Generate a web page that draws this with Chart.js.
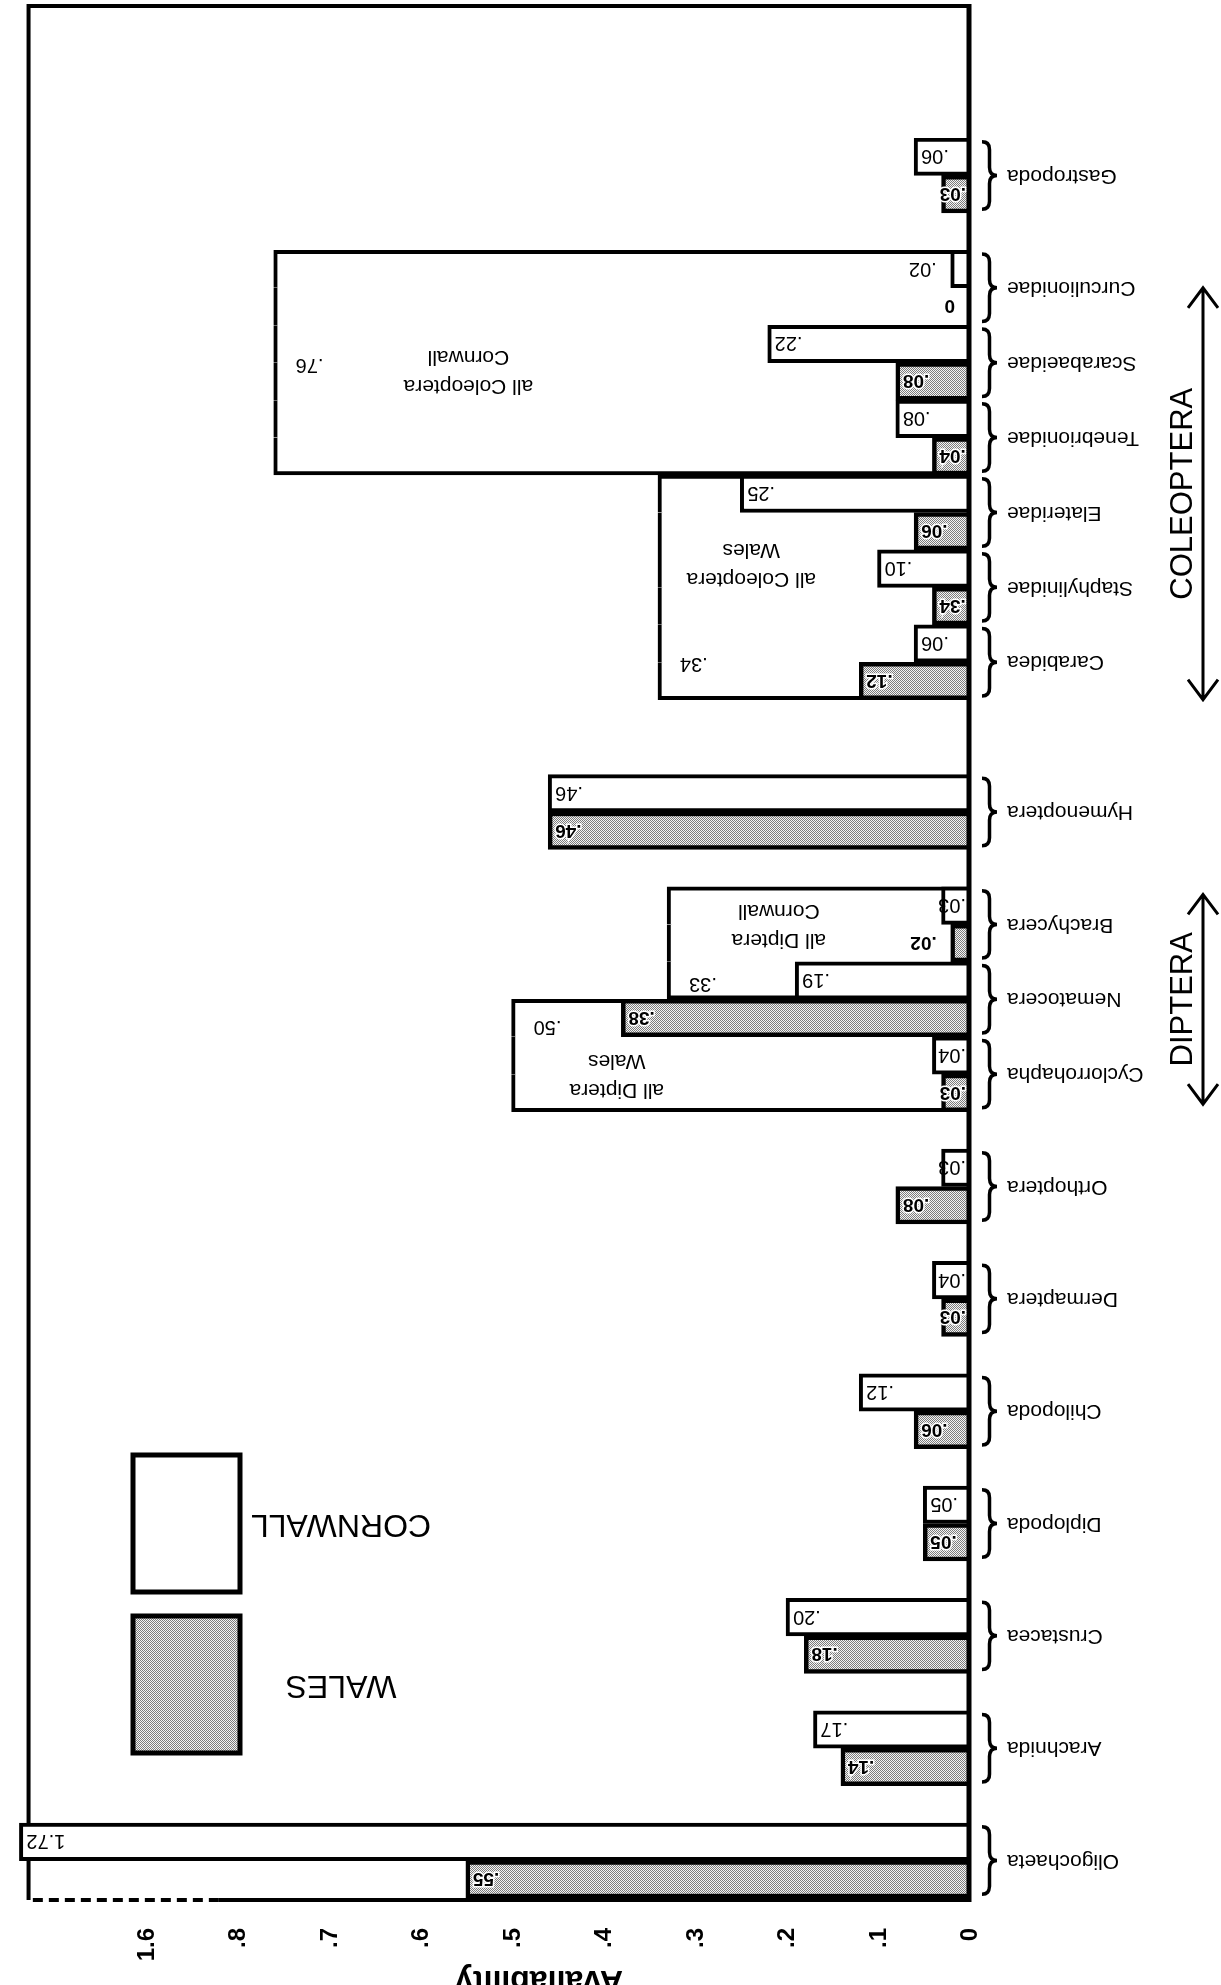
<!DOCTYPE html>
<html lang="en">
<head>
<meta charset="UTF-8">
<title>Availability – Wales and Cornwall</title>
<style>
  html,body{margin:0;padding:0;background:#fff}
  #wrap{width:1221px;height:1985px;transform:rotate(180deg)}
  canvas{display:block}
</style>
<script src="https://cdn.jsdelivr.net/npm/chart.js"></script>
</head>
<body>
<div id="wrap"><canvas id="avail" width="1221" height="1985"></canvas></div>
<script>
// values (drawn upright, page is turned over like the scan)
const categories = ['Oligochaeta','Arachnida','Crustacea','Diplopoda','Chilopoda','Dermaptera','Orthoptera',
  'Cyclorrohapha','Nematocera','Brachycera','Hymenoptera','Carabidea','Staphylinidae','Elateridae',
  'Tenebrionidae','Scarabaeidae','Curculionidae','Gastropoda'];
const wales    = [.55,.14,.18,.05,.06,.03,.08,.03,.38,.02,.46,.12,.04,.06,.04,.08,0,.03];
const cornwall = [1.72,.17,.20,.05,.12,.04,.03,.04,.19,.03,.46,.06,.10,.25,.08,.22,.02,.06];
const walesTags = {Staphylinidae: '.34'};   // printed that way on the original

const groupNames  = [['all Diptera','Wales'],['all Diptera','Cornwall'],['all Coleoptera','Wales'],['all Coleoptera','Cornwall']];
const groupValues = [.50,.33,.34,.76];
const groupSpans  = [['Cyclorrohapha W','Nematocera W'],['Nematocera C','Brachycera C'],
                     ['Carabidea W','Elateridae C'],['Tenebrionidae W','Curculionidae C']];

const tickValues = [0,.1,.2,.3,.4,.5,.6,.7,.8,1.6];
const tickLabels = ['0','.1','.2','.3','.4','.5','.6','.7','.8','1.6'];
const orders = [['DIPTERA','Cyclorrohapha','Brachycera'],['COLEOPTERA','Carabidea','Curculionidae']];

// layout only
const gapAfter   = [1,1,1,1,1,1,1,0,0,1,2,0,0,0,0,0,1,0];
const groupPlace = [[.77,.32,.76],[.63,.65,.14],[.70,.60,.16],[.72,.46,.49]];
const arrowExt   = [[.8,.8],[1,0]];
const L = {
  plotTop: 87, plotBottom: 1847, axisX: 252, padRight: 13,
  frameTop: 85, frameBottom: 1979, frameEnd: 1.028, xMax: 1.045, dashFrom: .82,
  labelGap: 38, braceX: 224, braceW: 15,
  tickEndY: 57, titleY: 14, titleAt: .47,
  arrowX: 18, arrowTextX: 29,
  legendX: 981, legendW: 107, legendH: 137, legendTextX: 880,
  legendY: {Cornwall: 393, Wales: 232}
};
const FONT = '"Liberation Sans", Arial, Helvetica, sans-serif';

// broken axis: .8 -> 1.6 squeezed
function brk(v) {
  if (v <= .8) return v;
  if (v <= 1.6) return .8 + (v - .8) * .125;
  return .9 + (v - 1.6) * 1.15;
}
const fmt = v => v === 0 ? '0' : v >= 1 ? v.toFixed(2) : v.toFixed(2).replace(/^0/, '');

// one row per bar, empty rows between taxa
const rows = [];
categories.forEach((c, i) => {
  rows.push(c + ' W', c + ' C');
  for (let g = 0; g < gapAfter[i]; g++) rows.push('gap' + i + '_' + g);
});
const walesRow = rows.map(r => r.endsWith(' W') ? wales[categories.indexOf(r.slice(0, -2))] : null);
const cornRow  = rows.map(r => r.endsWith(' C') ? cornwall[categories.indexOf(r.slice(0, -2))] : null);
const groupRow = rows.map(() => null), groupEdge = rows.map(() => null);
groupSpans.forEach(([from, to], g) => {
  const a = rows.indexOf(from), b = rows.indexOf(to);
  for (let i = a; i <= b; i++) { groupRow[i] = groupValues[g]; groupEdge[i] = {top: i === a, bottom: i === b}; }
});
const rowH = (L.plotBottom - L.plotTop) / rows.length;

const canvas = document.getElementById('avail');
function stipple() {
  const c = document.createElement('canvas'); c.width = c.height = 2;
  const g = c.getContext('2d');
  g.fillStyle = '#f4f4f4'; g.fillRect(0, 0, 2, 2);
  g.fillStyle = '#7c7c7c'; g.fillRect(0, 0, 1, 1); g.fillRect(1, 1, 1, 1);
  return canvas.getContext('2d').createPattern(c, 'repeat');
}
const walesFill = stipple();

const decor = {
  id: 'decor',
  beforeDatasetsDraw(chart) {
    const {ctx} = chart, xs = chart.scales.x;
    const xEnd = xs.getPixelForValue(L.frameEnd), xDash = xs.getPixelForValue(L.dashFrom);
    ctx.save();
    ctx.strokeStyle = '#000'; ctx.lineWidth = 4;
    ctx.beginPath();
    ctx.moveTo(L.axisX, L.frameTop); ctx.lineTo(xDash, L.frameTop);
    ctx.moveTo(xEnd, L.frameTop); ctx.lineTo(xEnd, L.frameBottom); ctx.lineTo(L.axisX, L.frameBottom);
    ctx.stroke();
    ctx.setLineDash([10, 6]);
    ctx.beginPath(); ctx.moveTo(xDash, L.frameTop); ctx.lineTo(xEnd, L.frameTop); ctx.stroke();
    ctx.restore();
  },
  afterDatasetsDraw(chart) {
    const {ctx} = chart, xs = chart.scales.x, ys = chart.scales.y;
    const catCenter = c => ys.getPixelForValue(rows.indexOf(c + ' W')) + rowH / 2;
    ctx.save();
    ctx.fillStyle = '#000'; ctx.strokeStyle = '#000';

    // value axis line
    ctx.lineWidth = 5;
    ctx.beginPath(); ctx.moveTo(L.axisX, L.frameTop - 2); ctx.lineTo(L.axisX, L.frameBottom + 2); ctx.stroke();

    // numbers on the bars
    [[1, cornRow, '20px ' + FONT, false], [2, walesRow, 'bold 19px ' + FONT, true]].forEach(([d, vals, font, halo]) => {
      chart.getDatasetMeta(d).data.forEach((el, i) => {
        const v = vals[i];
        if (v == null) return;
        const txt = (halo && walesTags[rows[i].slice(0, -2)]) || fmt(v);
        ctx.font = font; ctx.textAlign = 'left'; ctx.textBaseline = 'middle';
        const w = ctx.measureText(txt).width;
        const x = v < .025 ? el.x + 14 : Math.max(el.base + 3, el.x - 7 - w);
        if (halo) { ctx.lineWidth = 3; ctx.strokeStyle = '#fff'; ctx.strokeText(txt, x, el.y + 1); }
        ctx.fillStyle = '#000'; ctx.fillText(txt, x, el.y + 1);
      });
    });

    // group boxes text
    groupValues.forEach((gv, g) => {
      const a = rows.indexOf(groupSpans[g][0]), b = rows.indexOf(groupSpans[g][1]);
      const x0 = xs.getPixelForValue(0), x1 = xs.getPixelForValue(brk(gv));
      const y0 = ys.getPixelForValue(a) - rowH / 2, y1 = ys.getPixelForValue(b) + rowH / 2;
      const [fx, fy, fv] = groupPlace[g];
      const cx = x0 + fx * (x1 - x0), cy = y0 + fy * (y1 - y0);
      ctx.font = '21px ' + FONT; ctx.textAlign = 'center'; ctx.textBaseline = 'middle';
      ctx.fillText(groupNames[g][0], cx, cy - 14);
      ctx.fillText(groupNames[g][1], cx, cy + 15);
      ctx.font = '20px ' + FONT; ctx.textAlign = 'right';
      ctx.fillText(fmt(gv), x1 - 22, y0 + fv * (y1 - y0));
    });

    // braces
    ctx.strokeStyle = '#000'; ctx.lineWidth = 3.5;
    categories.forEach(c => {
      const yc = catCenter(c), h = rowH * .9, r = 8;
      const xl = L.braceX, xr = L.braceX + L.braceW, xm = (xl + xr) / 2;
      ctx.beginPath();
      ctx.moveTo(xr, yc - h);
      ctx.quadraticCurveTo(xm, yc - h, xm, yc - h + r);
      ctx.lineTo(xm, yc - r);
      ctx.quadraticCurveTo(xm, yc, xl, yc);
      ctx.quadraticCurveTo(xm, yc, xm, yc + r);
      ctx.lineTo(xm, yc + h - r);
      ctx.quadraticCurveTo(xm, yc + h, xr, yc + h);
      ctx.stroke();
    });

    // value axis tick labels, turned
    ctx.font = 'bold 24px ' + FONT; ctx.textAlign = 'right'; ctx.textBaseline = 'alphabetic';
    tickValues.forEach((v, k) => {
      const x = xs.getPixelForValue(brk(v));
      ctx.save(); ctx.translate(x - 8, L.tickEndY); ctx.rotate(Math.PI / 2);
      ctx.fillText(tickLabels[k], 0, 0); ctx.restore();
    });
    ctx.font = 'bold 32px ' + FONT; ctx.textAlign = 'center';
    ctx.fillText('Availability', xs.getPixelForValue(L.titleAt), L.titleY);

    // order arrows
    ctx.lineWidth = 3;
    orders.forEach(([name, from, to], k) => {
      const yA = catCenter(from) - arrowExt[k][0] * rowH, yB = catCenter(to) + arrowExt[k][1] * rowH;
      const x = L.arrowX;
      ctx.beginPath();
      ctx.moveTo(x, yA); ctx.lineTo(x, yB);
      ctx.moveTo(x - 15, yA + 20); ctx.lineTo(x, yA); ctx.lineTo(x + 15, yA + 20);
      ctx.moveTo(x - 15, yB - 20); ctx.lineTo(x, yB); ctx.lineTo(x + 15, yB - 20);
      ctx.stroke();
      ctx.save(); ctx.translate(L.arrowTextX, (yA + yB) / 2); ctx.rotate(Math.PI / 2);
      ctx.font = '31px ' + FONT; ctx.textAlign = 'center'; ctx.textBaseline = 'alphabetic';
      ctx.fillText(name, 0, 0); ctx.restore();
    });

    // legend
    const ds = chart.data.datasets;
    [['CORNWALL', ds[1].backgroundColor, L.legendY.Cornwall], ['WALES', ds[2].backgroundColor, L.legendY.Wales]]
      .forEach(([txt, fill, y]) => {
        ctx.fillStyle = fill; ctx.fillRect(L.legendX, y, L.legendW, L.legendH);
        ctx.lineWidth = 5; ctx.strokeStyle = '#000'; ctx.strokeRect(L.legendX, y, L.legendW, L.legendH);
        ctx.fillStyle = '#000'; ctx.font = '32px ' + FONT; ctx.textAlign = 'center'; ctx.textBaseline = 'middle';
        ctx.fillText(txt, L.legendTextX, y + L.legendH / 2);
      });
    ctx.restore();
  }
};

Chart.defaults.font.family = FONT;
Chart.defaults.color = '#000';

new Chart(canvas, {
  type: 'bar',
  data: {
    labels: rows,
    datasets: [
      { label: 'groups', data: groupRow.map(v => v == null ? null : brk(v)), order: 3,
        backgroundColor: '#fff', borderColor: '#000', borderSkipped: false,
        borderWidth: c => { const e = groupEdge[c.dataIndex] || {}; return {top: e.top ? 4 : 0, bottom: e.bottom ? 4 : 0, right: 4, left: 0}; } },
      { label: 'Cornwall', data: cornRow.map(v => v == null ? null : brk(v)), order: 2,
        backgroundColor: '#fff', borderColor: '#000', borderWidth: 4 },
      { label: 'Wales', data: walesRow.map(v => v == null ? null : brk(v)), order: 1,
        backgroundColor: walesFill, borderColor: '#000', borderWidth: 4.5 }
    ]
  },
  options: {
    indexAxis: 'y',
    responsive: false,
    animation: false,
    devicePixelRatio: 1,
    layout: { padding: { left: 0, top: 0, right: L.padRight, bottom: 1985 - L.plotBottom } },
    datasets: { bar: { grouped: false, categoryPercentage: 1, barPercentage: 1 } },
    scales: {
      x: {
        type: 'linear', position: 'top', min: 0, max: L.xMax,
        grid: { display: false }, border: { display: false }, ticks: { display: false },
        afterFit: s => { s.height = L.plotTop; }
      },
      y: {
        type: 'category', position: 'left',
        grid: { display: false, drawTicks: false }, border: { display: false },
        ticks: {
          autoSkip: false, padding: L.labelGap, labelOffset: rowH / 2,
          font: { size: 21 }, color: '#000',
          callback: (v, i) => rows[i].endsWith(' W') ? rows[i].slice(0, -2) : ''
        },
        afterFit: s => { s.width = L.axisX; }
      }
    },
    plugins: { legend: { display: false }, tooltip: { enabled: false } }
  },
  plugins: [decor]
});
</script>
</body>
</html>
